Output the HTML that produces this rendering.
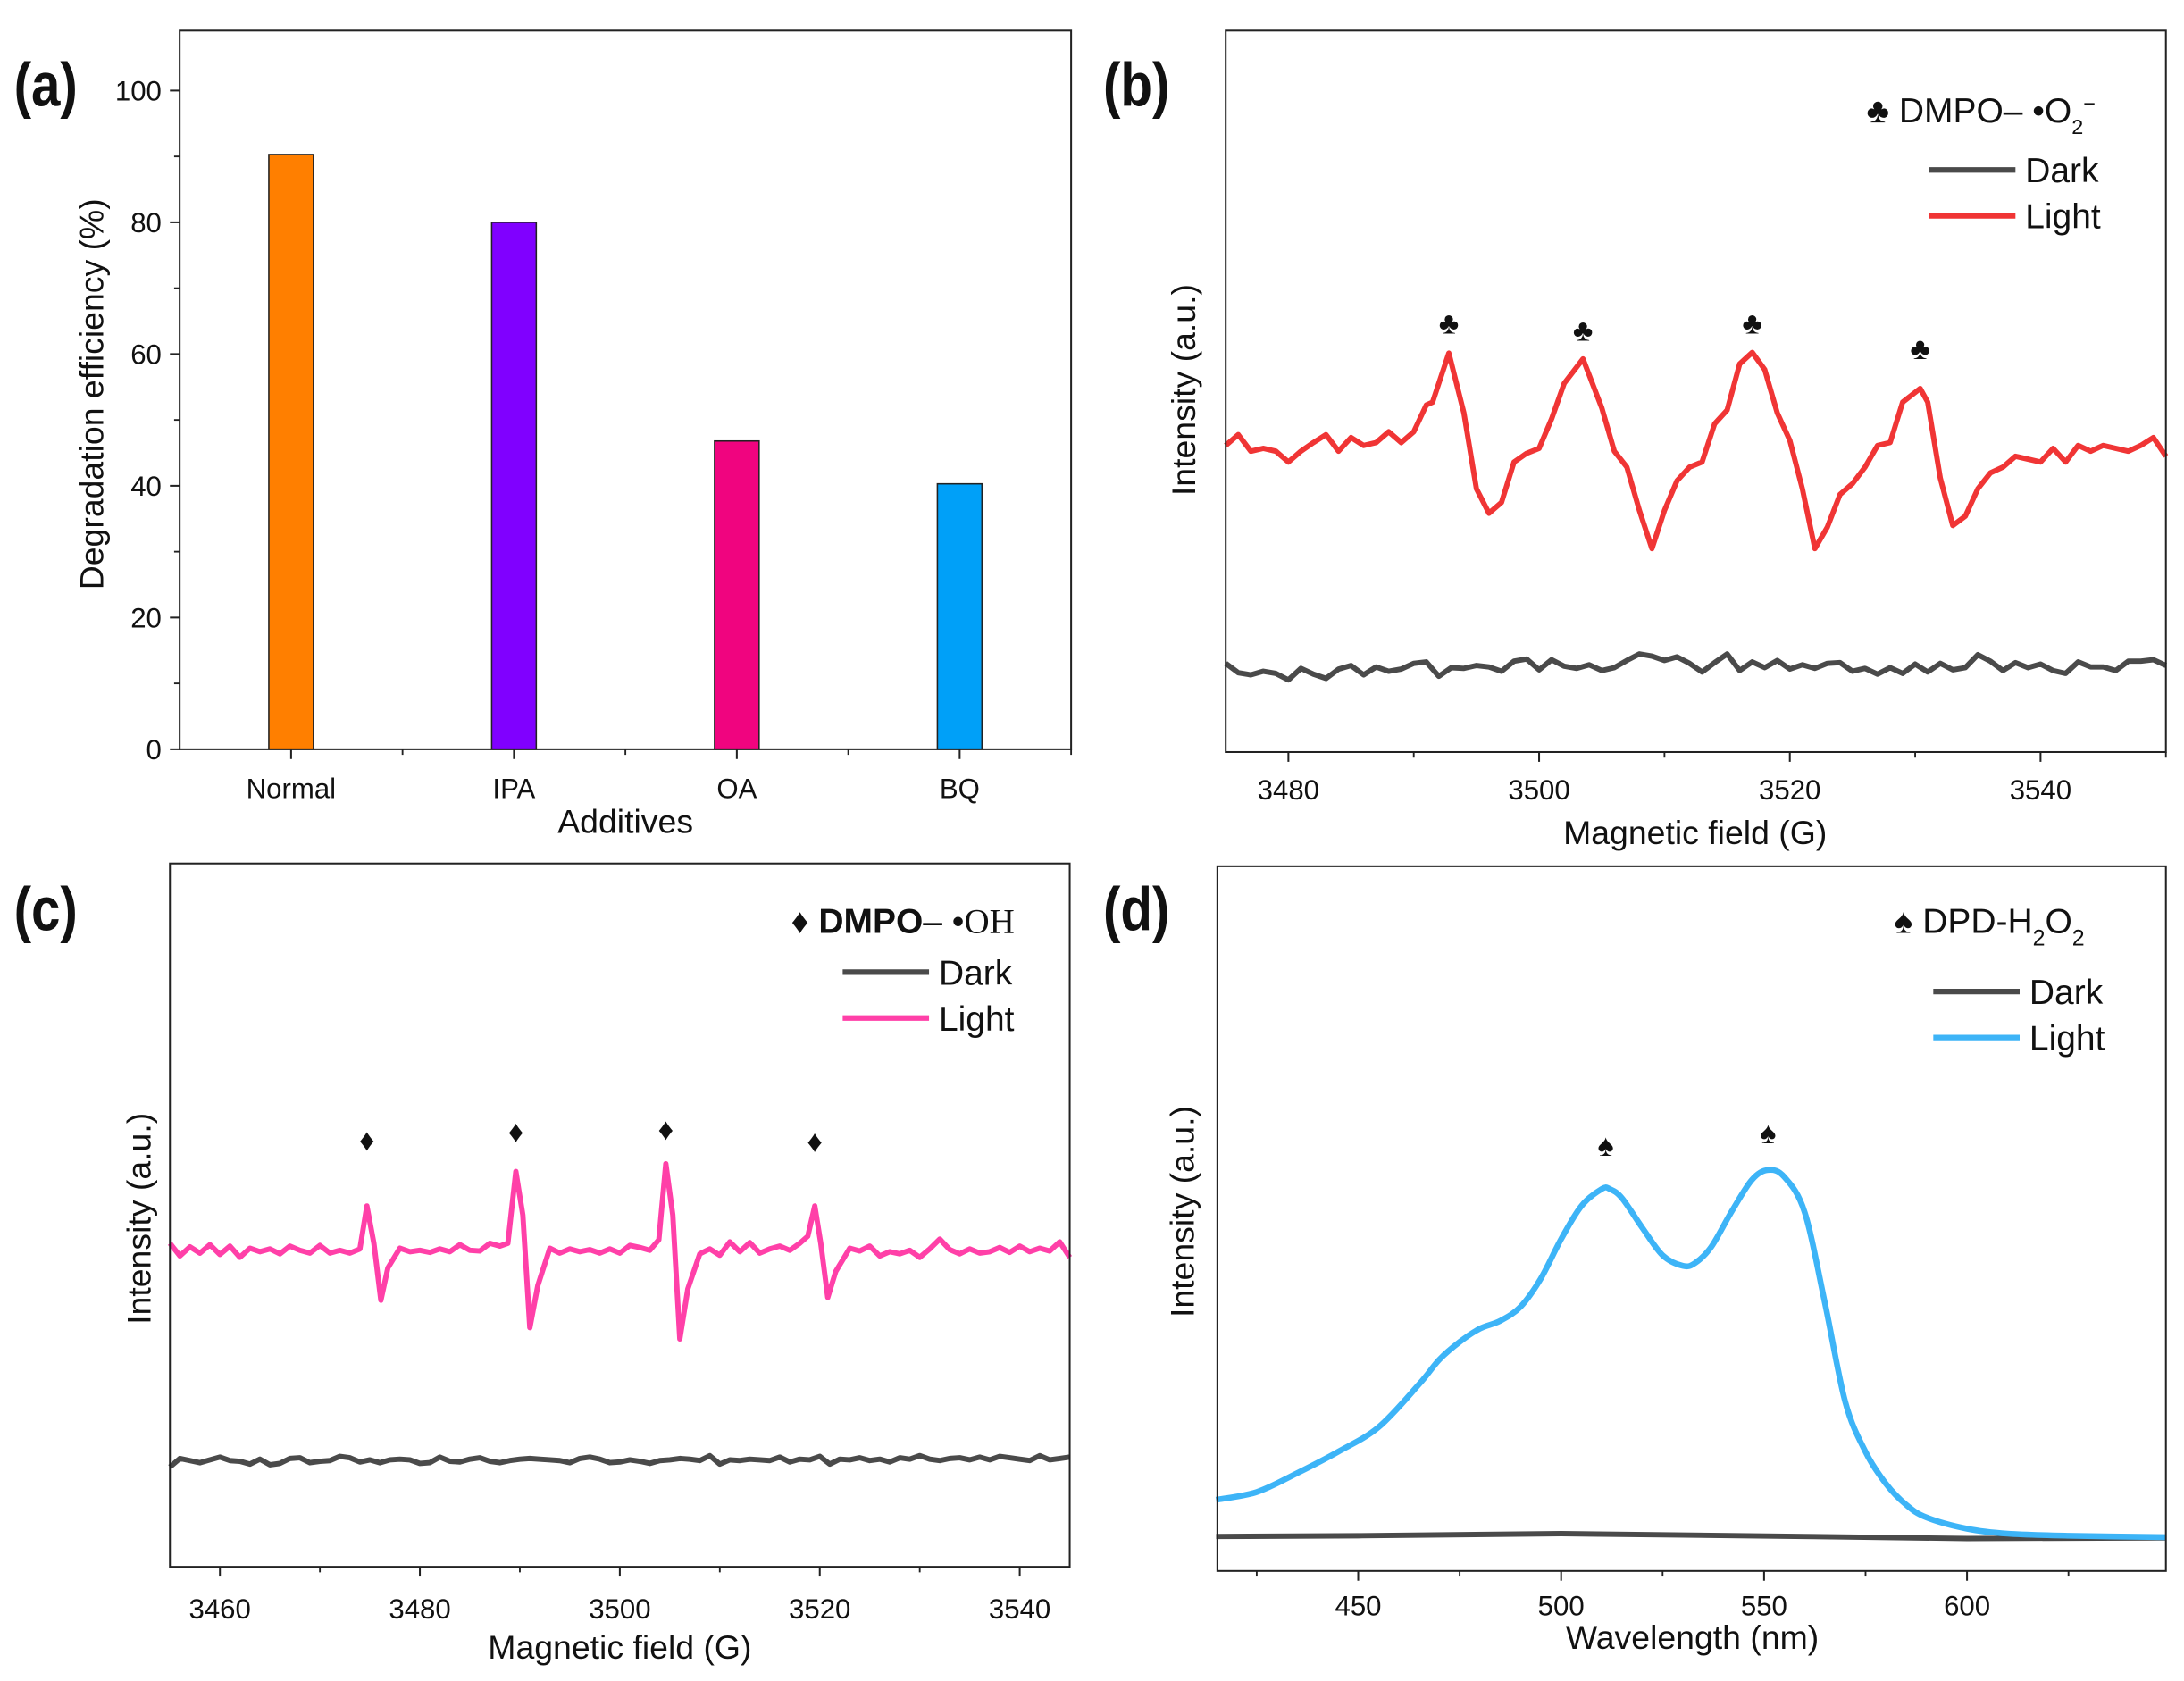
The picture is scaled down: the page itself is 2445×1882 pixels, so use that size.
<!DOCTYPE html>
<html><head><meta charset="utf-8"><style>
html,body{margin:0;padding:0;background:#fff}
svg{display:block}
text{font-family:"Liberation Sans",sans-serif;fill:#111}
</style></head><body>
<svg id="fig" xmlns="http://www.w3.org/2000/svg" width="2445" height="1882" viewBox="0 0 1568 1207" preserveAspectRatio="none">
<g id="root"></g>
</svg>
<script>
// ---- Panel (a) data ----
const aCats = ["Normal","IPA","OA","BQ"];
const aVals = [90.3, 80.0, 46.8, 40.3];
const aColors = ["#ff7f00","#8000ff","#f0047f","#00a0f8"];
const aYTicks = [0,20,40,60,80,100];
// ---- Panel (b) data ----
const bLightX = [3475,3476,3477,3478,3479,3480,3481,3482,3483,3484,3485,3486,3487,3488,3489,3490,3491,3491.5,3492.8,3494,3495,3496,3497,3498,3499,3500,3501,3502,3503.5,3505,3506,3507,3508,3509,3510,3511,3512,3513,3514,3515,3516,3517,3518,3519,3520,3521,3522,3523,3524,3525,3526,3527,3528,3529,3530.4,3531,3532,3533,3534,3535,3536,3537,3538,3539,3540,3541,3542,3543,3544,3545,3546,3547,3548,3549,3550];
const bLightY = [42.5,44,41.7,42.1,41.7,40.2,41.7,42.9,44,41.7,43.6,42.5,42.9,44.4,42.9,44.4,48.1,48.5,55.3,47,36.5,33.1,34.6,40.2,41.4,42.1,46.2,51.1,54.5,47.7,41.7,39.5,33.5,28.2,33.5,37.6,39.5,40.2,45.5,47.4,53.8,55.4,53,47,43.2,36.5,28.2,31.2,35.7,37.2,39.5,42.5,42.9,48.5,50.4,48.5,38,31.4,32.7,36.5,38.7,39.5,41,40.6,40.2,42.1,40.2,42.5,41.7,42.5,42.1,41.7,42.5,43.6,41];
const bDarkY = [12.3,11,10.7,11.2,10.9,10,11.6,10.8,10.2,11.5,12,10.7,11.8,11.2,11.5,12.3,12.5,10.5,11.7,11.6,12,11.8,11.2,12.6,12.9,11.4,12.8,11.9,11.6,12.1,11.3,11.7,12.7,13.6,13.3,12.7,13.2,12.3,11.1,12.4,13.6,11.3,12.5,11.7,12.7,11.5,12.1,11.6,12.3,12.4,11.2,11.6,10.8,11.7,10.9,12.2,11.1,12.3,11.4,11.7,13.5,12.6,11.3,12.4,11.7,12.2,11.3,10.9,12.5,11.8,11.8,11.3,12.6,12.6,12.8,12.0];
const bDarkStart = 3475;
const bPeaks = [3492.8,3503.5,3517,3530.4];
const bPeakI = [58,57,58,54.5];
const bXTicks = [3480,3500,3520,3540];
// ---- Panel (c) data ----
const cLightX = [3455,3456,3457,3458,3459,3460,3461,3462,3463,3464,3465,3466,3467,3468,3469,3470,3471,3472,3473,3474,3474.7,3475.4,3476.1,3476.8,3478,3479,3480,3481,3482,3483,3484,3485,3486,3487,3488,3488.8,3489.6,3490.3,3491,3491.8,3493,3494,3495,3496,3497,3498,3499,3500,3501,3502,3503,3503.9,3504.6,3505.3,3506,3506.8,3508,3509,3510,3511,3512,3513,3514,3515,3516,3517,3518,3518.8,3519.5,3520.1,3520.8,3521.6,3523,3524,3525,3526,3527,3528,3529,3530,3531,3532,3533,3534,3535,3536,3537,3538,3539,3540,3541,3542,3543,3544,3545];
const cLightY = [46,44.2,45.5,44.6,45.8,44.4,45.6,44,45.3,44.8,45.2,44.5,45.6,45,44.6,45.7,44.6,45,44.6,45.2,51.3,46,37.9,42.5,45.3,44.8,45,44.7,45.2,44.8,45.8,45,44.9,46,45.6,46,56.2,50,34,40,45.3,44.6,45.2,44.8,45.1,44.6,45.2,44.6,45.7,45.4,45,46.5,57.3,50,32.4,39.5,44.5,45.2,44.3,46.2,44.8,46.1,44.6,45.2,45.6,45,46,47,51.3,46,38.3,42,45.3,44.9,45.6,44.2,44.8,44.5,45,44,45.2,46.6,45.1,44.5,45.2,44.6,44.8,45.4,44.7,45.6,44.8,45.3,44.9,46.2,44];
const cDarkY = [14.2,15.4,15.1,14.8,15.2,15.6,15.1,15,14.6,15.3,14.5,14.7,15.4,15.5,14.8,15,15.1,15.7,15.5,14.9,15.2,14.8,15.2,15.3,15.2,14.7,14.8,15.6,15,14.9,15.3,15.5,15,14.8,15.1,15.3,15.4,15.3,15.2,15.1,14.8,15.4,15.6,15.3,14.8,14.9,15.2,15,14.7,15.1,15.2,15.4,15.3,15.1,15.8,14.6,15.2,15.1,15.3,15.2,15.1,15.6,14.9,15.3,15.2,15.7,14.6,15.3,15.2,15.5,15.1,15.3,14.9,15.5,15.3,15.8,15.3,15.1,15.4,15.5,15.2,15.6,15.2,15.7,15.5,15.3,15.1,15.8,15.2,15.4,15.6];
const cDarkStart = 3455;
const cPeaks = [3474.7,3489.6,3504.6,3519.5];
const cPeakI = [60.8,62,62.3,60.6];
const cXTicks = [3460,3480,3500,3520,3540];
// ---- Panel (d) data ----
const dLightX = [415,425,435,445,455,465,470,475,480,485,490,495,500,505,510,512,515,520,525,530,533,537,542,547,551,555,560,565,570,575,580,585,590,600,610,625,649];
const dLightY = [10.1,11.2,13.9,16.9,20.4,26.5,30,32.5,34.4,35.5,37.5,41.5,47.1,51.8,54.2,54.2,52.9,48.7,44.8,43.3,43.7,46,51,55.5,56.9,55.9,50.9,38,24,16.9,12.4,9.4,7.6,6,5.3,5,4.8];
const dDarkX = [415,450,500,530,560,600,649];
const dDarkY = [4.9,5.0,5.3,5.1,4.9,4.6,4.7];
const dPeaks = [511,551];
const dPeakI = [60.5,62.3];
const dXTicks = [450,500,550,600];

const NS="http://www.w3.org/2000/svg";
const root=document.getElementById('root');
function mk(tag,attrs,parent){const e=document.createElementNS(NS,tag);for(const k in attrs)e.setAttribute(k,attrs[k]);(parent||root).appendChild(e);return e;}
function txt(s,x,y,size,anchor,parent,extra){const t=mk('text',Object.assign({x:x,y:y,'font-size':size,'text-anchor':anchor||'start'},extra||{}),parent);t.textContent=s;return t;}
function lin(d0,d1,r0,r1){return v=>r0+(v-d0)/(d1-d0)*(r1-r0);}
function frame(x0,y0,x1,y1,name){const r=mk('rect',{x:x0,y:y0,width:x1-x0,height:y1-y0,fill:'none',stroke:'#222','stroke-width':1.3});}
function pathFrom(xs,ys,sx,sy){let d='';for(let i=0;i<xs.length;i++)d+=(i?'L':'M')+sx(xs[i]).toFixed(2)+','+sy(ys[i]).toFixed(2);return d;}
function panelLabel(s,x,y){const t=txt(s,x,y,44,'start',null,{'font-weight':'bold','transform':`translate(${x},${y}) scale(0.85,1) translate(${-x},${-y})`});}

// ===== Panel (a) =====
(function(){
 const x0=129,x1=769,y0=22,y1=538;
 const sy=lin(0,109.1,y1,y0);
 const g=mk('g',{});
 const w=(x1-x0)/8;
 aCats.forEach((c,i)=>{
  const cx=x0+w*(2*i+1);
  const b=mk('rect',{x:cx-16,y:sy(aVals[i]),width:32,height:y1-sy(aVals[i]),fill:aColors[i],stroke:'#222','stroke-width':1},g);
  
  mk('line',{x1:cx,y1:y1,x2:cx,y2:y1+7,stroke:'#222','stroke-width':1.3},g);
  const t=txt(c,cx,573,20,'middle',g);
 });
 for(let k=2;k<=8;k+=2){const x=x0+w*k;mk('line',{x1:x,y1:y1,x2:x,y2:y1+4,stroke:'#222','stroke-width':1.2},g);}
 aYTicks.forEach(v=>{const y=sy(v);mk('line',{x1:x0,y1:y,x2:x0-7,y2:y,stroke:'#222','stroke-width':1.3},g);
  const t=txt(String(v),116,y+7,20,'end',g);});
 for(let v=10;v<=100;v+=20){const y=sy(v);mk('line',{x1:x0,y1:y,x2:x0-4,y2:y,stroke:'#222','stroke-width':1.2},g);}
 frame(x0,y0,x1,y1,'plot-frame-a');
 let t=txt('Additives',449,598,24,'middle',g);
 t=txt('Degradation efficiency (%)',0,0,24,'middle',g,{transform:'translate(74,283) rotate(-90)'});
 panelLabel('(a)',10,76);
})();

function legend(g,x,y,label,colDark,colLight,lx,ly){
 const t=mk('text',{x:x,y:y,'font-size':25},g);
 
 t.innerHTML=label;
 [['Dark',colDark],['Light',colLight]].forEach((p,i)=>{
  const yy=ly+i*33;
  const l=mk('line',{x1:lx,y1:yy,x2:lx+62,y2:yy,stroke:p[1],'stroke-width':4},g);
  
  const tt=txt(p[0],lx+69,yy+9,25,'start',g);
 });
}

// ===== Panel (b) =====
(function(){
 const x0=880,x1=1555,y0=22,y1=540;
 const sx=lin(3475,3550,x0,x1), sy=lin(0,100,y1,y0);
 const g=mk('g',{});
 bXTicks.forEach(v=>{const x=sx(v);mk('line',{x1:x,y1:y1,x2:x,y2:y1+7,stroke:'#222','stroke-width':1.3},g);
  const t=txt(String(v),x,574,20,'middle',g);
  if(v+10<3550){const xm=sx(v+10);mk('line',{x1:xm,y1:y1,x2:xm,y2:y1+4,stroke:'#222','stroke-width':1.2},g);}});
 const xm=sx(3550);mk('line',{x1:xm,y1:y1,x2:xm,y2:y1+4,stroke:'#222','stroke-width':1.2},g);
 const dx=bDarkY.map((v,i)=>bDarkStart+i);
 let p=mk('path',{d:pathFrom(dx,bDarkY,sx,sy),fill:'none',stroke:'#4a4a4a','stroke-width':3.8,'stroke-linejoin':'round'},g);
 
 p=mk('path',{d:pathFrom(bLightX,bLightY,sx,sy),fill:'none',stroke:'#f03535','stroke-width':3.8,'stroke-linejoin':'round'},g);
 
 bPeaks.forEach((v,i)=>{const t=txt('♣',sx(v),sy(bPeakI[i]),22,'middle',g);});
 frame(x0,y0,x1,y1,'plot-frame-b');
 legend(g,1340,88,'♣ DMPO– •O<tspan baseline-shift="sub" font-size="15">2</tspan><tspan baseline-shift="super" font-size="15">−</tspan>','#4a4a4a','#f03535',1385,122);
 let t=txt('Magnetic field (G)',1217,606,24,'middle',g);
 t=txt('Intensity (a.u.)',0,0,24,'middle',g,{transform:'translate(858,280) rotate(-90)'});
 panelLabel('(b)',792,76);
})();

// ===== Panel (c) =====
(function(){
 const x0=122,x1=768,y0=620,y1=1125;
 const sx=lin(3455,3545,x0,x1), sy=lin(0,100,y1,y0);
 const g=mk('g',{});
 cXTicks.forEach(v=>{const x=sx(v);mk('line',{x1:x,y1:y1,x2:x,y2:y1+7,stroke:'#222','stroke-width':1.3},g);
  const t=txt(String(v),x,1162,20,'middle',g);
  if(v+10<3545){const xm=sx(v+10);mk('line',{x1:xm,y1:y1,x2:xm,y2:y1+4,stroke:'#222','stroke-width':1.2},g);}});
 const dx=cDarkY.map((v,i)=>cDarkStart+i);
 let p=mk('path',{d:pathFrom(dx,cDarkY,sx,sy),fill:'none',stroke:'#4a4a4a','stroke-width':3.8,'stroke-linejoin':'round'},g);
 
 p=mk('path',{d:pathFrom(cLightX,cLightY,sx,sy),fill:'none',stroke:'#ff40a8','stroke-width':3.8,'stroke-linejoin':'round'},g);
 
 cPeaks.forEach((v,i)=>{const t=txt('♦',sx(v),sy(cPeakI[i])+8,22,'middle',g);});
 frame(x0,y0,x1,y1,'plot-frame-c');
 legend(g,568,670,'♦ <tspan font-weight="bold">DMPO</tspan>– •<tspan font-family="Liberation Serif">OH</tspan>','#4a4a4a','#ff40a8',605,698);
 let t=txt('Magnetic field (G)',445,1191,24,'middle',g);
 t=txt('Intensity (a.u.)',0,0,24,'middle',g,{transform:'translate(108,875) rotate(-90)'});
 panelLabel('(c)',10,668);
})();

// ===== Panel (d) =====
(function(){
 const x0=874,x1=1555,y0=622,y1=1128;
 const sx=lin(415.3,649,x0,x1), sy=lin(0,100,y1,y0);
 const g=mk('g',{});
 dXTicks.forEach(v=>{const x=sx(v);mk('line',{x1:x,y1:y1,x2:x,y2:y1+7,stroke:'#222','stroke-width':1.3},g);
  const t=txt(String(v),x,1160,20,'middle',g);});
 for(let v=425;v<649;v+=50){const x=sx(v);mk('line',{x1:x,y1:y1,x2:x,y2:y1+4,stroke:'#222','stroke-width':1.2},g);}
 let p=mk('path',{d:pathFrom(dDarkX,dDarkY,sx,sy),fill:'none',stroke:'#4a4a4a','stroke-width':3.8},g);
 
 const pts=dLightX.map((v,i)=>[sx(v),sy(dLightY[i])]);
 let d='M'+pts[0][0]+','+pts[0][1];
 for(let i=0;i<pts.length-1;i++){const p0=pts[Math.max(0,i-1)],p1=pts[i],p2=pts[i+1],p3=pts[Math.min(pts.length-1,i+2)];
  d+=`C${p1[0]+(p2[0]-p0[0])/6},${p1[1]+(p2[1]-p0[1])/6} ${p2[0]-(p3[0]-p1[0])/6},${p2[1]-(p3[1]-p1[1])/6} ${p2[0]},${p2[1]}`;}
 p=mk('path',{d:d,fill:'none',stroke:'#3db4f7','stroke-width':4.2},g);
 
 dPeaks.forEach((v,i)=>{const t=txt('♠',sx(v),sy(dPeakI[i])+8,22,'middle',g);});
 frame(x0,y0,x1,y1,'plot-frame-d');
 legend(g,1360,670,'♠ DPD-H<tspan baseline-shift="sub" font-size="16">2</tspan>O<tspan baseline-shift="sub" font-size="16">2</tspan>','#4a4a4a','#3db4f7',1388,712);
 let t=txt('Wavelength (nm)',1215,1184,24,'middle',g);
 t=txt('Intensity (a.u.)',0,0,24,'middle',g,{transform:'translate(857,870) rotate(-90)'});
 panelLabel('(d)',792,668);
})();
</script>
</body></html>
